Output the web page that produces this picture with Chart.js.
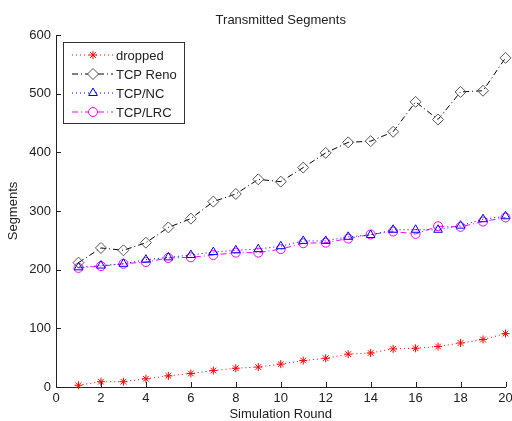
<!DOCTYPE html>
<html>
<head>
<meta charset="utf-8">
<title>Transmitted Segments</title>
<script src="https://cdn.jsdelivr.net/npm/chart.js"></script>
<style>
    html, body { margin: 0; padding: 0; background: #fff; }
    #wrap { width: 512px; height: 421px; position: relative; }
</style>
</head>
<body>
<div id="wrap"><canvas id="segChart"></canvas></div>
<script>
const rounds = [1, 2, 3, 4, 5, 6, 7, 8, 9, 10, 11, 12, 13, 14, 15, 16, 17, 18, 19, 20];
const dropped = [3, 9, 9, 14, 19, 23, 28, 32, 34, 39, 45, 49, 56, 58, 65, 66, 69, 75, 81, 91];
const tcpReno = [212, 237, 233, 246, 272, 287, 316, 329, 354, 350, 374, 399, 417, 419, 435, 486, 456, 503, 505, 561];
const tcpNC = [204, 207, 210, 217, 221, 225, 230, 233, 235, 240, 249, 249, 256, 259, 268, 268, 268, 275, 286, 291];
const tcpLRC = [203, 206, 210, 213, 220, 221, 225, 229, 229, 235, 245, 246, 253, 260, 265, 261, 274, 273, 282, 289];
const xTicks = [0, 2, 4, 6, 8, 10, 12, 14, 16, 18, 20];
const yTicks = [0, 100, 200, 300, 400, 500, 600];

const FONT = '"Liberation Sans", Arial, Helvetica, sans-serif';
const TEXT = '#222';

function toPoints(values) {
    return values.map((v, i) => ({x: rounds[i], y: v}));
}

// MATLAB style: only left/bottom axes, ticks pointing inward, titles, boxed legend
const matlabLook = {
    id: 'matlabLook',
    afterDraw(chart) {
        const ctx = chart.ctx;
        const area = chart.chartArea;
        const xs = chart.scales.x;
        const ys = chart.scales.y;
        ctx.save();
        ctx.strokeStyle = '#222';
        ctx.lineWidth = 1;
        ctx.beginPath();
        xTicks.forEach(t => {
            const px = Math.round(xs.getPixelForValue(t)) + 0.5;
            ctx.moveTo(px, area.bottom);
            ctx.lineTo(px, area.bottom - 5);
        });
        yTicks.forEach(t => {
            const py = Math.round(ys.getPixelForValue(t)) + 0.5;
            ctx.moveTo(area.left, py);
            ctx.lineTo(area.left + 5, py);
        });
        ctx.stroke();

        ctx.fillStyle = TEXT;
        ctx.font = '13px ' + FONT;
        ctx.textAlign = 'center';
        ctx.textBaseline = 'middle';
        ctx.fillText('Transmitted Segments', (area.left + area.right) / 2, 20);
        ctx.fillText('Simulation Round', (area.left + area.right) / 2, 414);
        ctx.save();
        ctx.translate(13, (area.top + area.bottom) / 2);
        ctx.rotate(-Math.PI / 2);
        ctx.fillText('Segments', 0, 0);
        ctx.restore();

        // legend
        const box = {x: 63.5, y: 42.5, w: 121, h: 81};
        ctx.fillStyle = '#fff';
        ctx.fillRect(box.x, box.y, box.w, box.h);
        ctx.strokeStyle = '#333';
        ctx.strokeRect(box.x, box.y, box.w, box.h);
        chart.data.datasets.forEach((ds, i) => {
            const y = 55 + i * 19;
            ctx.save();
            ctx.strokeStyle = ds.borderColor;
            ctx.lineWidth = 1;
            ctx.setLineDash(ds.borderDash || []);
            ctx.beginPath();
            ctx.moveTo(72, y);
            ctx.lineTo(113, y);
            ctx.stroke();
            ctx.restore();
            const opts = {
                pointStyle: ds.pointStyle,
                radius: ds.pointRadius,
                borderWidth: 1,
                rotation: 0
            };
            ctx.save();
            ctx.strokeStyle = ds.pointBorderColor;
            ctx.fillStyle = '#fff';
            ctx.lineWidth = 1;
            Chart.helpers.drawPoint(ctx, opts, 93, y);
            ctx.restore();
            ctx.fillStyle = TEXT;
            ctx.font = '13px ' + FONT;
            ctx.textAlign = 'left';
            ctx.fillText(ds.label, 116, y + 1);
        });
        ctx.restore();
    }
};

const ctx = document.getElementById('segChart').getContext('2d');
const segChart = new Chart(ctx, {
    type: 'line',
    data: {
        datasets: [{
            label: 'dropped',
            data: toPoints(dropped),
            borderColor: '#ff0000',
            borderWidth: 1,
            borderDash: [1, 3],
            pointStyle: 'star',
            pointRadius: 4,
            pointBorderColor: '#ff0000',
            pointBorderWidth: 1,
            pointBackgroundColor: '#ff0000',
            clip: false
        }, {
            label: 'TCP Reno',
            data: toPoints(tcpReno),
            borderColor: '#000000',
            borderWidth: 1,
            borderDash: [6, 3, 1, 3],
            pointStyle: 'rectRot',
            pointRadius: 5.5,
            pointBorderColor: '#555555',
            pointBorderWidth: 1,
            pointBackgroundColor: 'rgba(0,0,0,0)',
            clip: false
        }, {
            label: 'TCP/NC',
            data: toPoints(tcpNC),
            borderColor: '#0000ff',
            borderWidth: 1,
            borderDash: [1, 3],
            pointStyle: 'triangle',
            pointRadius: 5,
            pointBorderColor: '#0000ff',
            pointBorderWidth: 1,
            pointBackgroundColor: 'rgba(0,0,0,0)',
            clip: false
        }, {
            label: 'TCP/LRC',
            data: toPoints(tcpLRC),
            borderColor: '#ff00ff',
            borderWidth: 1,
            borderDash: [6, 3, 1, 3],
            pointStyle: 'circle',
            pointRadius: 4.5,
            pointBorderColor: '#ff00ff',
            pointBorderWidth: 1,
            pointBackgroundColor: 'rgba(0,0,0,0)',
            clip: false
        }]
    },
    options: {
        responsive: true,
        maintainAspectRatio: false,
        animation: false,
        layout: {padding: {top: 35, right: 0, left: 0, bottom: 0}},
        plugins: {
            legend: {display: false},
            title: {display: false},
            tooltip: {enabled: false}
        },
        elements: {line: {tension: 0}},
        scales: {
            x: {
                type: 'linear',
                min: 0,
                max: 20,
                afterBuildTicks: scale => { scale.ticks = xTicks.map(v => ({value: v})); },
                afterFit: scale => {
                    scale.height = 34;
                    scale.paddingLeft = 0;
                    scale.paddingRight = 6;
                },
                grid: {display: false, drawTicks: false},
                border: {display: true, color: '#222', width: 1},
                ticks: {color: TEXT, font: {family: FONT, size: 13}, padding: 4, maxRotation: 0, autoSkip: false}
            },
            y: {
                min: 0,
                max: 600,
                afterBuildTicks: scale => { scale.ticks = yTicks.map(v => ({value: v})); },
                afterFit: scale => {
                    scale.width = 56;
                    scale.paddingTop = 0;
                    scale.paddingBottom = 0;
                },
                grid: {display: false, drawTicks: false},
                border: {display: true, color: '#222', width: 1},
                ticks: {color: TEXT, font: {family: FONT, size: 13}, padding: 5}
            }
        }
    },
    plugins: [matlabLook]
});
</script>
</body>
</html>
